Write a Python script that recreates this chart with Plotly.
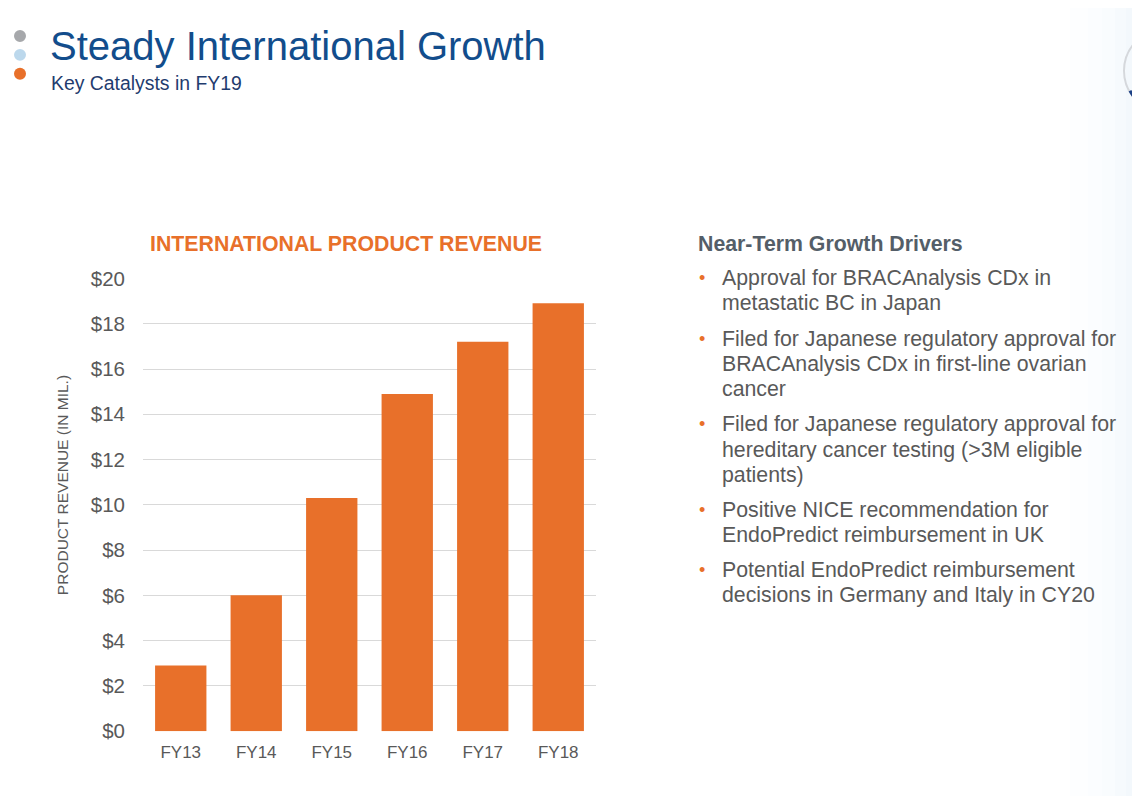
import plotly.graph_objects as go

W, H = 1140, 796

categories = ["FY13", "FY14", "FY15", "FY16", "FY17", "FY18"]
revenue = [2.9, 6.0, 10.3, 14.9, 17.2, 18.9]
y_tickvals = [0, 2, 4, 6, 8, 10, 12, 14, 16, 18, 20]
y_ticktext = ["$0", "$2", "$4", "$6", "$8", "$10", "$12", "$14", "$16", "$18", "$20"]

title = "Steady International Growth"
subtitle = "Key Catalysts in FY19"
chart_title = "INTERNATIONAL PRODUCT REVENUE"
y_title = "PRODUCT REVENUE (IN MIL.)"
drivers_title = "Near-Term Growth Drivers"
drivers = [
    ["Approval for BRACAnalysis CDx in", "metastatic BC in Japan"],
    ["Filed for Japanese regulatory approval for", "BRACAnalysis CDx in first-line ovarian", "cancer"],
    ["Filed for Japanese regulatory approval for", "hereditary cancer testing (>3M eligible", "patients)"],
    ["Positive NICE recommendation for", "EndoPredict reimbursement in UK"],
    ["Potential EndoPredict reimbursement", "decisions in Germany and Italy in CY20"],
]

ORANGE = "#E8702A"
GRAY = "#595959"
FONT = "Liberation Sans, Arial, sans-serif"

# calibration of screen position -> paper coordinates
OX, OY, SY = 8.0, 17.0, 0.975


def px(x):
    return (x - OX) / W


def py(y):
    return 1 - ((y - OY) / SY) / H


fig = go.Figure()
fig.add_trace(go.Bar(
    x=categories, y=revenue, marker=dict(color=ORANGE, line=dict(width=0)),
    width=0.68, hoverinfo="skip",
))

fig.update_layout(
    width=W, height=H,
    margin=dict(l=0, r=0, t=0, b=0),
    paper_bgcolor="white", plot_bgcolor="white",
    showlegend=False,
    font=dict(family=FONT, color=GRAY),
    xaxis=dict(
        domain=[px(143), px(596)], showgrid=False, zeroline=False, showline=False,
        tickfont=dict(size=17, color=GRAY), ticks="", ticklabelstandoff=9,
    ),
    yaxis=dict(
        domain=[py(731), py(276.5)], range=[0, 20], tickvals=y_tickvals, ticktext=y_ticktext,
        showgrid=True, gridcolor="#D9D9D9", gridwidth=1, zeroline=False, showline=False,
        tickfont=dict(size=20.5, color=GRAY), ticks="", ticklabelstandoff=17,
    ),
)

shapes = []
# faint right-edge gradient
steps = [(1070, 0.015), (1088, 0.02), (1102, 0.025), (1115, 0.03), (1126, 0.035)]
for x0, op in steps:
    shapes.append(dict(type="rect", xref="paper", yref="paper", x0=px(x0), x1=px(1160),
                       y0=py(820), y1=py(-20), fillcolor="#9EC3E6", opacity=op,
                       line=dict(width=0), layer="below"))
# partial logo circle at top right
cx, cy, r = 1166, 68, 42
shapes.append(dict(type="circle", xref="paper", yref="paper",
                   x0=px(cx - r), x1=px(cx + r), y0=py(cy + r), y1=py(cy - r),
                   line=dict(color="#D5D8DC", width=2)))
shapes.append(dict(type="path", xref="paper", yref="paper",
                   path=f"M {px(1130)},{py(88)} Q {px(1135)},{py(97)} {px(1142)},{py(102)}",
                   line=dict(color="#1B3F85", width=3)))
# left dots
for yy, col in [(33, "#A6A8AB"), (52, "#BCD8EC"), (71, "#E8702A")]:
    shapes.append(dict(type="circle", xref="paper", yref="paper",
                       x0=px(14), x1=px(26), y0=py(yy + 6), y1=py(yy - 6),
                       fillcolor=col, line=dict(width=0)))
fig.update_layout(shapes=shapes)

ann = []


def text_at(x, y, text, size, color, xanchor="left", **kw):
    ann.append(dict(x=px(x), y=py(y), xref="paper", yref="paper", text=text, showarrow=False,
                    xanchor=xanchor, yanchor="middle", align="left",
                    font=dict(size=size, color=color, family=FONT), **kw))


text_at(48, 43, title, 40, "#124D8C")
text_at(49, 80, subtitle, 19.4, "#1F3C6E")
text_at(346, 242, f"<b>{chart_title}</b>", 21.3, ORANGE, xanchor="center")
text_at(62, 484, y_title, 15.5, GRAY, xanchor="center", textangle=-90)
text_at(696, 242, f"<b>{drivers_title}</b>", 21.3, "#545E68")

first_line_y = [276, 337, 423, 509, 569]
LINE_H = 25.3
for lines, yy in zip(drivers, first_line_y):
    text_at(697, yy, "•", 18, ORANGE)
    for i, line in enumerate(lines):
        text_at(720, yy + i * LINE_H, line, 21.3, GRAY)
fig.update_layout(annotations=ann)

fig.write_html("out.html")
